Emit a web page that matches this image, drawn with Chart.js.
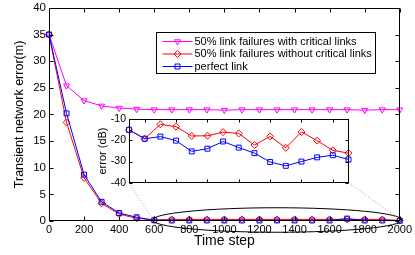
<!DOCTYPE html>
<html>
<head>
<meta charset="utf-8">
<script src="https://cdn.jsdelivr.net/npm/chart.js@4.4.0/dist/chart.umd.min.js"></script>
<style>
  html, body { margin: 0; padding: 0; background: #fff; }
  #wrap { position: relative; width: 415px; height: 255px; }
  #main { position: absolute; left: 0; top: 0; }
  #insetBox { position: absolute; left: 94px; top: 111px; width: 259px; height: 80px; }
</style>
</head>
<body>
<div id="wrap">
  <canvas id="main" width="415" height="255"></canvas>
  <div id="insetBox"><canvas id="inset" width="259" height="80"></canvas></div>
</div>
<script>
'use strict';

// ── Data ─────────────────────────────────────────────────────────────────────

const steps = [0, 100, 200, 300, 400, 500, 600, 700, 800, 900, 1000,
               1100, 1200, 1300, 1400, 1500, 1600, 1700, 1800, 1900, 2000];

const withCritical    = [35, 25.4, 22.6, 21.6, 21.2, 21.0, 20.9, 20.9, 20.9, 20.9, 20.8,
                         20.9, 20.9, 20.9, 20.9, 20.9, 20.9, 20.9, 20.8, 20.9, 20.9];
const withoutCritical = [35, 18.5, 8.1, 3.3, 1.3, 0.5, 0.2, 0.3, 0.3, 0.3, 0.3,
                         0.3, 0.3, 0.3, 0.3, 0.3, 0.3, 0.3, 0.3, 0.3, 0.1];
const perfect         = [35, 20.2, 8.7, 3.6, 1.5, 0.7, 0.15, 0.1, 0.1, 0.1, 0.1,
                         0.1, 0.1, 0.1, 0.1, 0.1, 0.1, 0.45, 0.1, 0.1, 0.05];

const xTicksMain = [0, 200, 400, 600, 800, 1000, 1200, 1400, 1600, 1800, 2000];
const yTicksMain = [0, 5, 10, 15, 20, 25, 30, 35, 40];

// inset: error in dB for steps 600..2000
const insetIndex      = [1, 2, 3, 4, 5, 6, 7, 8, 9, 10, 11, 12, 13, 14, 15];
const insetWithout    = [-15, -19.2, -12.4, -13.5, -17.9, -17.8, -16.1, -16.7, -22.2, -18.1,
                         -23.5, -16.0, -20.1, -24.7, -26.0];
const insetPerfect    = [-15, -19.2, -18.2, -20.1, -25.2, -23.9, -20.5, -23.4, -26.0, -30.2,
                         -32.0, -30.0, -28.0, -27.0, -29.0];
const xTicksInset = [2, 4, 6, 8, 10, 12, 14];
const yTicksInset = [-40, -30, -20, -10];

// zoomed region marked by the ellipse (data units)
const zoomFrom = 590, zoomTo = 2012, zoomHalfHeight = 2.3;

Chart.defaults.font.family = '"Liberation Sans", Arial, Helvetica, sans-serif';
Chart.defaults.color = '#000';

const pts = (xs, ys) => xs.map((x, i) => ({ x, y: ys[i] }));
const plain = v => String(v);

function line(label, data, color, style, radius, order, rotation) {
  return {
    label, data, order,
    borderColor: color,
    borderWidth: 1,
    pointStyle: style,
    pointRotation: rotation || 0,
    pointRadius: radius,
    pointHoverRadius: radius,
    pointBorderColor: color,
    pointBackgroundColor: 'rgba(0,0,0,0)',
    pointBorderWidth: 1,
    tension: 0,
    clip: false,
  };
}

// ── Frame with inward ticks (MATLAB box) ─────────────────────────────────────

function drawFrame(chart, len, xVals, yVals) {
  const { ctx, chartArea: a, scales: { x, y } } = chart;
  const L = Math.round(a.left) + 0.5, R = Math.round(a.right) - 0.5;
  const T = Math.round(a.top) + 0.5, B = Math.round(a.bottom) - 0.5;
  ctx.save();
  ctx.strokeStyle = '#000';
  ctx.lineWidth = 1;
  ctx.beginPath();
  xVals.forEach(v => {
    const px = Math.round(x.getPixelForValue(v)) + 0.5;
    ctx.moveTo(px, B); ctx.lineTo(px, B - len);
    ctx.moveTo(px, T); ctx.lineTo(px, T + len);
  });
  yVals.forEach(v => {
    const py = Math.round(y.getPixelForValue(v)) + 0.5;
    ctx.moveTo(L, py); ctx.lineTo(L + len, py);
    ctx.moveTo(R, py); ctx.lineTo(R - len, py);
  });
  ctx.stroke();
  ctx.strokeRect(L, T, R - L, B - T);
  ctx.restore();
}

// ── Inset chart ──────────────────────────────────────────────────────────────

const insetChart = new Chart(document.getElementById('inset'), {
  type: 'line',
  data: {
    datasets: [
      line('50% link failures without critical links', pts(insetIndex, insetWithout), '#ff0000', 'rectRot', 3.5, 1),
      line('perfect link', pts(insetIndex, insetPerfect), '#0000ff', 'rect', 3.5, 0),
    ],
  },
  options: {
    responsive: false,
    animation: false,
    devicePixelRatio: 1,
    layout: { padding: { top: 7, right: 2, bottom: 6, left: 0 } },
    plugins: { legend: { display: false }, tooltip: { enabled: false } },
    scales: {
      x: { type: 'linear', min: 1, max: 15, display: false },
      y: {
        min: -40, max: -10,
        afterBuildTicks: s => { s.ticks = yTicksInset.map(value => ({ value })); },
        afterFit: s => { s.width = 35; },
        grid: { display: false, drawTicks: false },
        border: { display: false },
        ticks: { font: { size: 10.5, lineHeight: 1 }, padding: 3, callback: plain },
        title: { display: true, text: 'error (dB)', font: { size: 11 }, padding: { top: 2, bottom: 0 } },
      },
    },
  },
  plugins: [{
    id: 'insetFrame',
    beforeDatasetsDraw(chart) {
      const a = chart.chartArea;
      chart.ctx.fillStyle = '#fff';
      chart.ctx.fillRect(a.left, a.top, a.right - a.left, a.bottom - a.top);
    },
    afterDraw(chart) { drawFrame(chart, 3, xTicksInset, yTicksInset); },
  }],
});

// ── Main chart ───────────────────────────────────────────────────────────────

function drawLegend(chart) {
  const ctx = chart.ctx;
  const left = 156.5, top = 32.5, w = 219, h = 41;
  ctx.save();
  ctx.fillStyle = '#fff';
  ctx.fillRect(left, top, w, h);
  ctx.strokeStyle = '#000';
  ctx.lineWidth = 1;
  ctx.strokeRect(left, top, w, h);
  ctx.font = '11px "Liberation Sans", Arial, sans-serif';
  ctx.textBaseline = 'middle';
  chart.data.datasets.forEach((ds, i) => {
    const yy = top + 9 + i * 12.5;
    ctx.strokeStyle = ds.borderColor;
    ctx.beginPath();
    ctx.moveTo(left + 6, yy); ctx.lineTo(left + 36, yy);
    ctx.stroke();
    ctx.fillStyle = 'rgba(0,0,0,0)';
    Chart.helpers.drawPoint(ctx, {
      pointStyle: ds.pointStyle, rotation: ds.pointRotation,
      radius: ds.pointRadius, borderWidth: 1,
    }, left + 21, yy);
    ctx.fillStyle = '#000';
    ctx.fillText(ds.label, left + 38, yy);
  });
  ctx.restore();
}

function drawZoomMarks(chart) {
  const { ctx, scales: { x, y } } = chart;
  const x0 = x.getPixelForValue(zoomFrom), x1 = x.getPixelForValue(zoomTo);
  const cy = y.getPixelForValue(0) - 1;
  const ry = y.getPixelForValue(0) - y.getPixelForValue(zoomHalfHeight);
  ctx.save();
  ctx.strokeStyle = '#000';
  ctx.lineWidth = 1;
  ctx.beginPath();
  ctx.ellipse((x0 + x1) / 2, cy, (x1 - x0) / 2, ry, 0, 0, Math.PI * 2);
  ctx.stroke();

  // dotted connectors from the inset corners
  const box = document.getElementById('insetBox');
  const ia = insetChart.chartArea;
  ctx.strokeStyle = '#999';
  ctx.setLineDash([1, 2]);
  ctx.beginPath();
  ctx.moveTo(box.offsetLeft + ia.left, box.offsetTop + ia.bottom);
  ctx.lineTo(x0, cy - 1);
  ctx.moveTo(box.offsetLeft + ia.right, box.offsetTop + ia.bottom);
  ctx.lineTo(x.getPixelForValue(2000) - 2, y.getPixelForValue(0.6));
  ctx.stroke();
  ctx.restore();
}

new Chart(document.getElementById('main'), {
  type: 'line',
  data: {
    datasets: [
      line('50% link failures with critical links', pts(steps, withCritical), '#ff00ff', 'triangle', 3.5, 2, 180),
      line('50% link failures without critical links', pts(steps, withoutCritical), '#ff0000', 'rectRot', 3.5, 1),
      line('perfect link', pts(steps, perfect), '#0000ff', 'rect', 3.5, 0),
    ],
  },
  options: {
    responsive: false,
    animation: false,
    devicePixelRatio: 1,
    layout: { padding: { top: 5, right: 14, bottom: 0, left: 0 } },
    plugins: { legend: { display: false }, tooltip: { enabled: false } },
    scales: {
      x: {
        type: 'linear', min: 0, max: 2000,
        afterBuildTicks: s => { s.ticks = xTicksMain.map(value => ({ value })); },
        afterFit: s => { s.height = 34; },
        grid: { display: false, drawTicks: false },
        border: { display: false },
        ticks: { font: { size: 11, lineHeight: 1 }, padding: 3, maxRotation: 0, autoSkip: false, callback: plain },
        title: { display: true, text: 'Time step', font: { size: 14 }, padding: { top: 0, bottom: 5 } },
      },
      y: {
        min: 0, max: 40,
        afterBuildTicks: s => { s.ticks = yTicksMain.map(value => ({ value })); },
        afterFit: s => { s.width = 49; },
        grid: { display: false, drawTicks: false },
        border: { display: false },
        ticks: { font: { size: 11.5, lineHeight: 0.85 }, padding: 3, callback: plain },
        title: { display: true, text: 'Transient network error(m)', font: { size: 12.5 }, padding: { top: 12, bottom: 0 } },
      },
    },
  },
  plugins: [{
    id: 'mainDecor',
    afterDraw(chart) {
      drawFrame(chart, 4, xTicksMain, yTicksMain);
      drawZoomMarks(chart);
      drawLegend(chart);
    },
  }],
});
</script>
</body>
</html>
